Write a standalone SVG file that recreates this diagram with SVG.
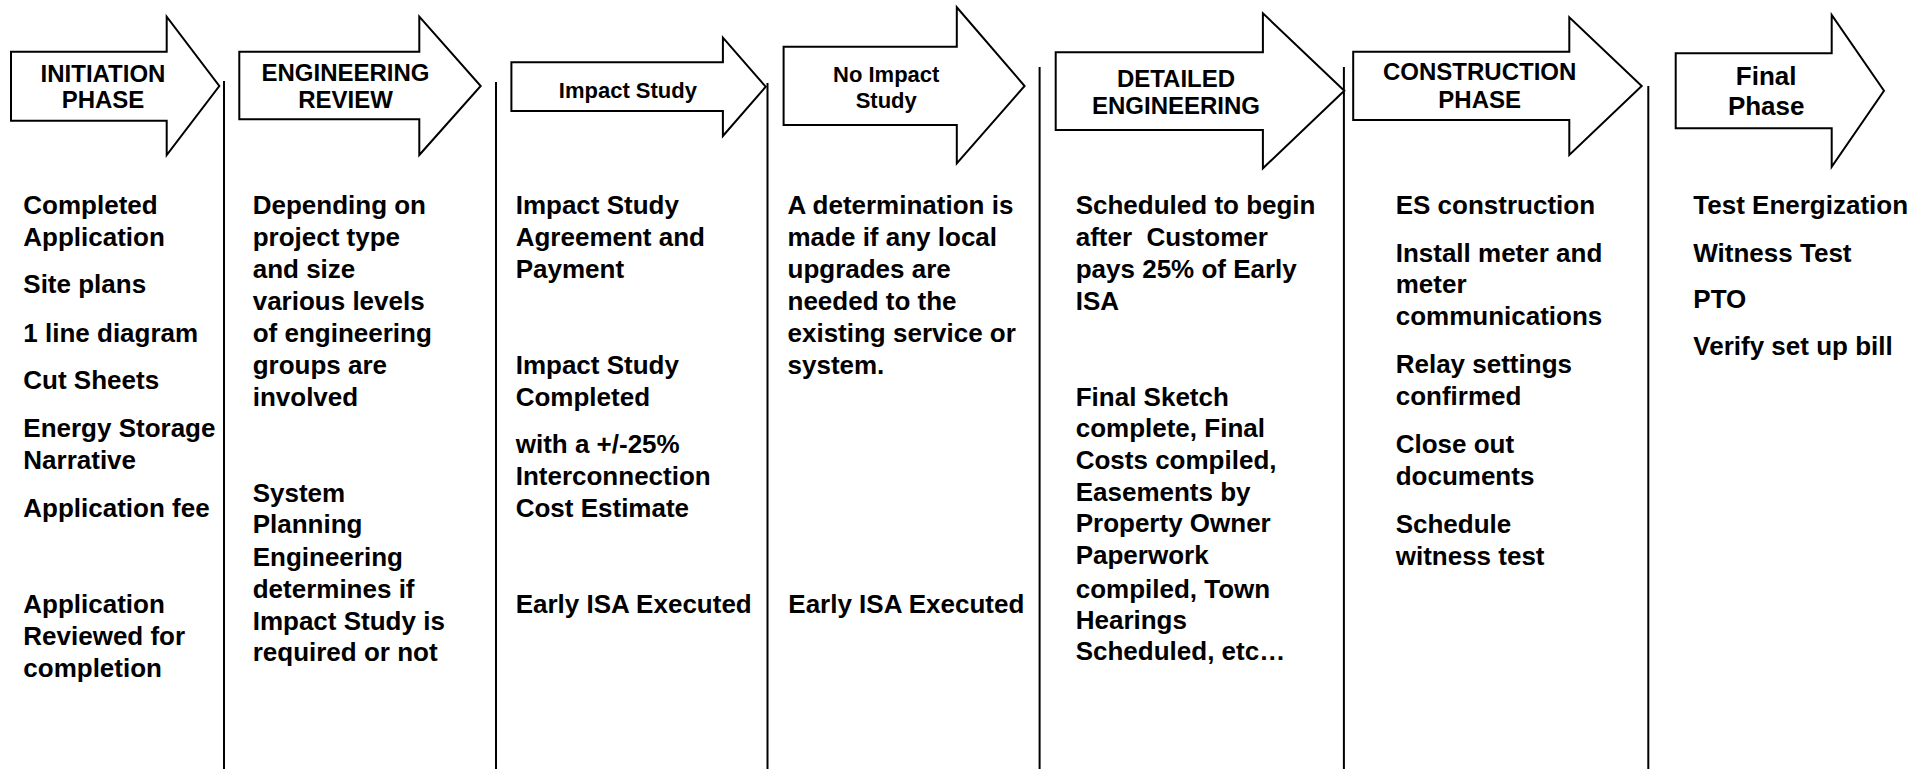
<svg xmlns="http://www.w3.org/2000/svg" width="1917" height="769" viewBox="0 0 1917 769">
  <style>
    .arrow { fill: #ffffff; stroke: #000000; stroke-width: 2; stroke-linejoin: miter; }
    .divider { stroke: #000000; stroke-width: 2; fill: none; }
    .head { font-family: "Liberation Sans", Arial, sans-serif; font-weight: bold; font-size: 24px; fill: #000000; text-anchor: middle; }
    .head-sm { font-size: 22px; }
    .head-lg { font-size: 26px; }
    .body { font-family: "Liberation Sans", Arial, sans-serif; font-weight: bold; font-size: 26px; fill: #000000; }
  </style>
  <rect x="0" y="0" width="1917" height="769" fill="#ffffff"/>

  <!-- column separators -->
  <g id="dividers">
    <line class="divider" x1="224" y1="81" x2="224" y2="769"/>
    <line class="divider" x1="496" y1="82" x2="496" y2="769"/>
    <line class="divider" x1="767.5" y1="83" x2="767.5" y2="769"/>
    <line class="divider" x1="1039.6" y1="67" x2="1039.6" y2="769"/>
    <line class="divider" x1="1343.9" y1="67" x2="1343.9" y2="769"/>
    <line class="divider" x1="1648.3" y1="86" x2="1648.3" y2="769"/>
  </g>

  <g id="initiation">
    <polygon class="arrow" points="11,51.7 166.7,51.7 166.7,16.7 219.3,86 166.7,155 166.7,120.7 11,120.7"/>
    <text class="head" x="103" y="81.7">INITIATION</text>
    <text class="head" x="103" y="108.3">PHASE</text>
    <text class="body" x="23.3">
      <tspan x="23.3" y="214.3">Completed</tspan>
      <tspan x="23.3" y="246">Application</tspan>
      <tspan x="23.3" y="293.3">Site plans</tspan>
      <tspan x="23.3" y="341.7">1 line diagram</tspan>
      <tspan x="23.3" y="389.3">Cut Sheets</tspan>
      <tspan x="23.3" y="437.3">Energy Storage</tspan>
      <tspan x="23.3" y="469.3">Narrative</tspan>
      <tspan x="23.3" y="516.7">Application fee</tspan>
      <tspan x="23.3" y="613.3">Application</tspan>
      <tspan x="23.3" y="645">Reviewed for</tspan>
      <tspan x="23.3" y="676.7">completion</tspan>
    </text>
  </g>

  <g id="engineering-review">
    <polygon class="arrow" points="239.3,51.7 419.3,51.7 419.3,16.7 480.7,86 419.3,155 419.3,119.3 239.3,119.3"/>
    <text class="head" x="345.5" y="81">ENGINEERING</text>
    <text class="head" x="345.5" y="108.3">REVIEW</text>
    <text class="body">
      <tspan x="252.7" y="214.3">Depending on</tspan>
      <tspan x="252.7" y="246">project type</tspan>
      <tspan x="252.7" y="277.7">and size</tspan>
      <tspan x="252.7" y="310">various levels</tspan>
      <tspan x="252.7" y="341.7">of engineering</tspan>
      <tspan x="252.7" y="374">groups are</tspan>
      <tspan x="252.7" y="405.7">involved</tspan>
      <tspan x="252.7" y="502.3">System</tspan>
      <tspan x="252.7" y="533.3">Planning</tspan>
      <tspan x="252.7" y="565.7">Engineering</tspan>
      <tspan x="252.7" y="598.3">determines if</tspan>
      <tspan x="252.7" y="630">Impact Study is</tspan>
      <tspan x="252.7" y="661">required or not</tspan>
    </text>
  </g>

  <g id="impact-study">
    <polygon class="arrow" points="511.4,62.3 722.9,62.3 722.9,37.7 765.7,86.7 722.9,136 722.9,111 511.4,111"/>
    <text class="head head-sm" x="627.9" y="98.3">Impact Study</text>
    <text class="body">
      <tspan x="515.7" y="214.3">Impact Study</tspan>
      <tspan x="515.7" y="246">Agreement and</tspan>
      <tspan x="515.7" y="277.7">Payment</tspan>
      <tspan x="515.7" y="374">Impact Study</tspan>
      <tspan x="515.7" y="405.7">Completed</tspan>
      <tspan x="515.7" y="453.3">with a +/-25%</tspan>
      <tspan x="515.7" y="485">Interconnection</tspan>
      <tspan x="515.7" y="516.7">Cost Estimate</tspan>
      <tspan x="515.7" y="613.3">Early ISA Executed</tspan>
    </text>
  </g>

  <g id="no-impact-study">
    <polygon class="arrow" points="783.6,46.7 956.8,46.7 956.8,7.3 1024.6,86 956.8,163.3 956.8,125 783.6,125"/>
    <text class="head head-sm" x="886.2" y="81.7">No Impact</text>
    <text class="head head-sm" x="886.2" y="108.3">Study</text>
    <text class="body">
      <tspan x="787.5" y="214.3">A determination is</tspan>
      <tspan x="787.5" y="246">made if any local</tspan>
      <tspan x="787.5" y="277.7">upgrades are</tspan>
      <tspan x="787.5" y="310">needed to the</tspan>
      <tspan x="787.5" y="341.7">existing service or</tspan>
      <tspan x="787.5" y="374">system.</tspan>
      <tspan x="788.3" y="613.3">Early ISA Executed</tspan>
    </text>
  </g>

  <g id="detailed-engineering">
    <polygon class="arrow" points="1055.7,52.3 1262.9,52.3 1262.9,13.3 1344.3,90.7 1262.9,168.3 1262.9,130 1055.7,130"/>
    <text class="head" x="1176" y="87.3">DETAILED</text>
    <text class="head" x="1176" y="114.3">ENGINEERING</text>
    <text class="body">
      <tspan x="1075.7" y="214.3">Scheduled to begin</tspan>
      <tspan x="1075.7" y="246" xml:space="preserve">after  Customer</tspan>
      <tspan x="1075.7" y="277.7">pays 25% of Early</tspan>
      <tspan x="1075.7" y="310">ISA</tspan>
      <tspan x="1075.7" y="405.7">Final Sketch</tspan>
      <tspan x="1075.7" y="437.3">complete, Final</tspan>
      <tspan x="1075.7" y="469">Costs compiled,</tspan>
      <tspan x="1075.7" y="500.7">Easements by</tspan>
      <tspan x="1075.7" y="532.3">Property Owner</tspan>
      <tspan x="1075.7" y="564">Paperwork</tspan>
      <tspan x="1075.7" y="598.3">compiled, Town</tspan>
      <tspan x="1075.7" y="629.3">Hearings</tspan>
      <tspan x="1075.7" y="660">Scheduled, etc…</tspan>
    </text>
  </g>

  <g id="construction-phase">
    <polygon class="arrow" points="1353.2,51.7 1569.3,51.7 1569.3,17.3 1641.7,86 1569.3,155 1569.3,120 1353.2,120"/>
    <text class="head" x="1479.7" y="80">CONSTRUCTION</text>
    <text class="head" x="1479.7" y="108.3">PHASE</text>
    <text class="body">
      <tspan x="1395.7" y="214.3">ES construction</tspan>
      <tspan x="1395.7" y="261.7">Install meter and</tspan>
      <tspan x="1395.7" y="293.3">meter</tspan>
      <tspan x="1395.7" y="325">communications</tspan>
      <tspan x="1395.7" y="373.3">Relay settings</tspan>
      <tspan x="1395.7" y="405">confirmed</tspan>
      <tspan x="1395.7" y="453.3">Close out</tspan>
      <tspan x="1395.7" y="485">documents</tspan>
      <tspan x="1395.7" y="533.3">Schedule</tspan>
      <tspan x="1395.7" y="565">witness test</tspan>
    </text>
  </g>

  <g id="final-phase">
    <polygon class="arrow" points="1675.7,53.3 1831.7,53.3 1831.7,15 1884,90.7 1831.7,166.7 1831.7,128.3 1675.7,128.3"/>
    <text class="head head-lg" x="1766.2" y="85">Final</text>
    <text class="head head-lg" x="1766.2" y="115">Phase</text>
    <text class="body">
      <tspan x="1693.3" y="214.3">Test Energization</tspan>
      <tspan x="1693.3" y="261.7">Witness Test</tspan>
      <tspan x="1693.3" y="308.3">PTO</tspan>
      <tspan x="1693.3" y="355">Verify set up bill</tspan>
    </text>
  </g>
</svg>
